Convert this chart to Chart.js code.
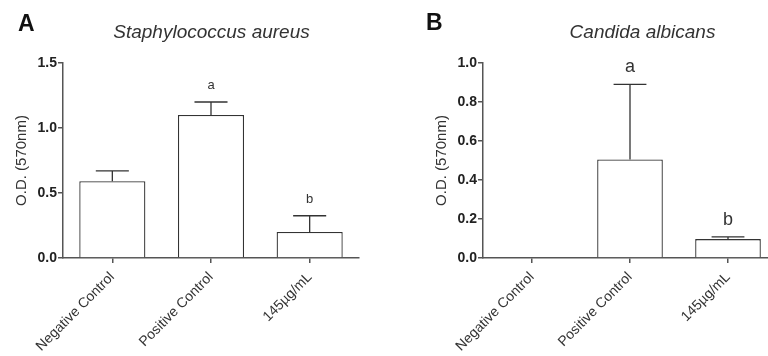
<!DOCTYPE html>
<html><head><meta charset="utf-8">
<script src="https://cdn.jsdelivr.net/npm/chart.js@4"></script>
<style>
html,body{margin:0;padding:0;background:#fff;overflow:hidden;width:768px;height:356px;position:relative}
#wrapA{position:absolute;left:0;top:0;width:384px;height:356px}
#wrapB{position:absolute;left:384px;top:0;width:410px;height:356px}
canvas{display:block}
</style></head><body>
<div id="wrapA"><canvas id="cA" width="384" height="356"></canvas></div>
<div id="wrapB"><canvas id="cB" width="410" height="356"></canvas></div>
<script>
const categories = ['Negative Control', 'Positive Control', '145\u00b5g/mL'];

const saureusMean = [0.59, 1.10, 0.20];
const saureusErr  = [0.08, 0.10, 0.125];
const saureusLetters = ['', 'a', 'b'];
const saureusTicks = [0.0, 0.5, 1.0, 1.5];

const candidaMean = [0.0, 0.505, 0.097];
const candidaErr  = [0.0, 0.385, 0.011];
const candidaLetters = ['', 'a', 'b'];
const candidaTicks = [0.0, 0.2, 0.4, 0.6, 0.8, 1.0];

const FAMILY = '"Liberation Sans", Arial, Helvetica, sans-serif';
const LINE = '#555';
const DARK = '#333';

function makeChart(id, o) {
  const annot = {
    id: 'annot_' + id,
    afterDatasetsDraw(chart) {
      const ctx = chart.ctx;
      const meta = chart.getDatasetMeta(0);
      const ys = chart.scales.y;
      ctx.save();
      ctx.strokeStyle = DARK;
      ctx.lineWidth = 1.3;
      meta.data.forEach((bar, i) => {
        const m = o.mean[i], e = o.err[i];
        const topPx = ys.getPixelForValue(m + e);
        const barPx = ys.getPixelForValue(m);
        if (e > 0) {
          const half = bar.width / 4;
          ctx.beginPath();
          ctx.moveTo(bar.x, barPx);
          ctx.lineTo(bar.x, topPx);
          ctx.moveTo(bar.x - half, topPx);
          ctx.lineTo(bar.x + half, topPx);
          ctx.stroke();
        }
        if (o.letters[i]) {
          ctx.fillStyle = DARK;
          ctx.font = o.letterSize + 'px ' + FAMILY;
          ctx.textAlign = 'center';
          ctx.textBaseline = 'alphabetic';
          ctx.fillText(o.letters[i], bar.x, topPx - o.letterGap);
        }
      });
      // title
      ctx.fillStyle = DARK;
      ctx.font = 'italic 19px ' + FAMILY;
      ctx.textAlign = 'center';
      ctx.textBaseline = 'middle';
      ctx.fillText(o.title, o.titleX, 33);
      // panel letter
      ctx.fillStyle = '#111';
      ctx.font = 'bold 23px ' + FAMILY;
      ctx.textAlign = 'left';
      ctx.fillText(o.panel, o.panelX, o.panelY);
      ctx.restore();
    }
  };
  return new Chart(document.getElementById(id), {
    type: 'bar',
    data: {
      labels: categories,
      datasets: [{
        data: o.mean,
        backgroundColor: '#ffffff',
        borderColor: DARK,
        borderWidth: 1.3,
        barPercentage: 0.67,
        categoryPercentage: 1.0
      }]
    },
    options: {
      responsive: false,
      animation: false,
      layout: { padding: { top: 63, right: o.padRight, left: 0, bottom: 0 } },
      plugins: { legend: { display: false }, tooltip: { enabled: false }, title: { display: false } },
      scales: {
        x: {
          afterFit: s => { s.height = 98; },
          ticks: { font: { family: FAMILY, size: 14 }, color: DARK, minRotation: 45, maxRotation: 45, padding: 6, autoSkip: false },
          grid: { drawOnChartArea: false, drawTicks: true, tickLength: 5, color: LINE, lineWidth: 1.5, offset: false },
          border: { color: LINE, width: 1.5 }
        },
        y: {
          min: 0, max: o.ticks[o.ticks.length - 1],
          afterBuildTicks: s => { s.ticks = o.ticks.map(v => ({ value: v })); },
          afterFit: s => { s.width = o.yWidth; },
          ticks: { font: { family: FAMILY, size: 14, weight: 'bold' }, color: '#222', padding: 1, callback: v => Number(v).toFixed(1) },
          grid: { drawOnChartArea: false, drawTicks: true, tickLength: 5, color: LINE, lineWidth: 1.5 },
          border: { color: LINE, width: 1.5 },
          title: { display: true, text: 'O.D. (570nm)', font: { family: FAMILY, size: 15 }, color: DARK, padding: { top: o.titlePad, bottom: 0 } }
        }
      }
    },
    plugins: [annot]
  });
}

makeChart('cA', {
  mean: saureusMean, err: saureusErr, letters: saureusLetters, ticks: saureusTicks,
  title: 'Staphylococcus aureus', titleX: 211.5, panel: 'A', panelX: 18, panelY: 25,
  letterSize: 13, letterGap: 13, yWidth: 63, padRight: 25, titlePad: 13
});
makeChart('cB', {
  mean: candidaMean, err: candidaErr, letters: candidaLetters, ticks: candidaTicks,
  title: 'Candida albicans', titleX: 258.5, panel: 'B', panelX: 42, panelY: 24,
  letterSize: 18, letterGap: 12, yWidth: 99, padRight: 17, titlePad: 49
});
</script>
</body></html>
